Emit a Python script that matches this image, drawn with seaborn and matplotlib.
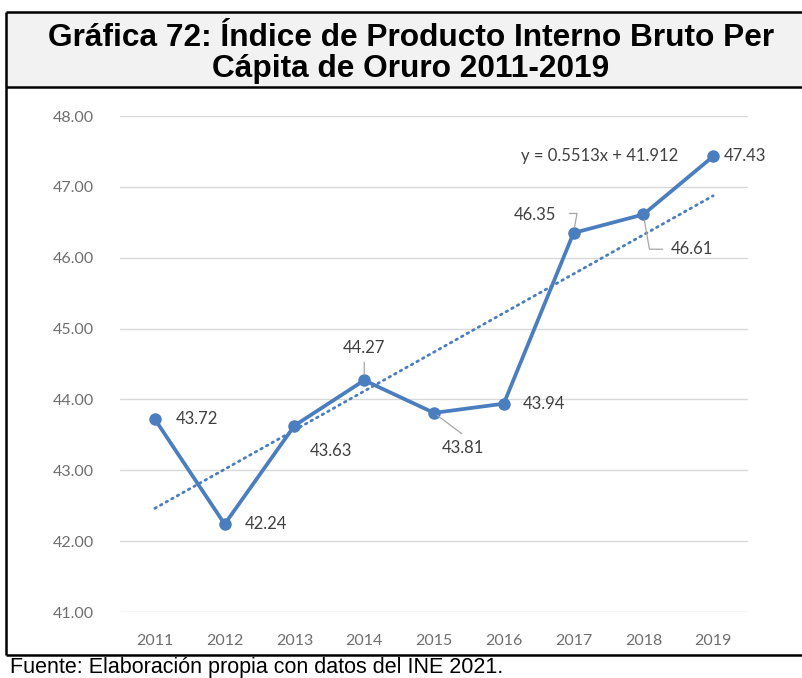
import matplotlib
matplotlib.use("Agg")
import matplotlib.pyplot as plt
import seaborn as sns
import pandas as pd
import numpy as np
from matplotlib.patches import Rectangle
from matplotlib.lines import Line2D

# Index of GDP per capita, Oruro
years = [2011, 2012, 2013, 2014, 2015, 2016, 2017, 2018, 2019]
values = [43.72, 42.24, 43.63, 44.27, 43.81, 43.94, 46.35, 46.61, 47.43]
y_ticks = [41.00, 42.00, 43.00, 44.00, 45.00, 46.00, 47.00, 48.00]

# linear trend (x = 1..9)
trend_slope = 0.5513
trend_intercept = 41.912

title_lines = ["Gráfica 72: Índice de Producto Interno Bruto Per",
               "Cápita de Oruro 2011-2019"]
source_text = "Fuente: Elaboración propia con datos del INE 2021."

sns.set_theme(style="white")
plt.rcParams["font.family"] = ["Lato", "DejaVu Sans"]

BLUE = "#4a7ebf"
LABEL = "#404040"
TICK = "#6f6f6f"
ARIAL = ["Liberation Sans", "DejaVu Sans"]

W, H = 803, 678
fig = plt.figure(figsize=(W / 100, H / 100), dpi=100)

def fx(px):
    return px / W

def fy(py):
    return 1 - py / H

# frame and title band
fig.add_artist(Rectangle((fx(6), fy(87)), 1.0, fy(12) - fy(87), transform=fig.transFigure,
                         facecolor="#f2f2f2", edgecolor="none", zorder=0))
for (x0, y0, x1, y1) in [(6, 12, 810, 12), (6, 87, 810, 87), (6, 655, 810, 655), (6, 12, 6, 655)]:
    fig.add_artist(Line2D([fx(x0), fx(x1)], [fy(y0), fy(y1)], transform=fig.transFigure,
                          color="black", lw=1.8, solid_capstyle="butt", zorder=5))

for line, base in zip(title_lines, [46, 77]):
    fig.text(fx(411), fy(base), line, ha="center", va="baseline", fontsize=22.8,
             fontweight="bold", family=ARIAL, color="black")
fig.text(fx(10), fy(673.5), source_text, ha="left", va="baseline", fontsize=15.5,
         family=ARIAL, color="black")

ax = fig.add_axes([fx(120), fy(612), fx(748) - fx(120), fy(116) - fy(612)])
ax.set_facecolor("none")

df = pd.DataFrame({"year": years, "value": values})
trend_x = np.arange(1, len(years) + 1)
trend_df = pd.DataFrame({"year": years, "trend": trend_slope * trend_x + trend_intercept})

for t in y_ticks:
    ax.axhline(t, color="#d9d9d9", lw=1.0, zorder=0)

sns.lineplot(data=trend_df, x="year", y="trend", ax=ax, color=BLUE, lw=2.0,
             linestyle=(0, (0.6, 1.7)), dash_capstyle="round", zorder=2)
sns.lineplot(data=df, x="year", y="value", ax=ax, color=BLUE, lw=2.7,
             marker="o", markersize=9, markeredgewidth=0, zorder=3)

ax.set_xlim(2010.5, 2019.5)
ax.set_ylim(41, 48)
ax.set_xticks(years)
ax.set_xticklabels([str(y) for y in years])
ax.set_yticks(y_ticks)
ax.set_yticklabels([f"{t:.2f}" for t in y_ticks])
ax.tick_params(axis="x", length=0, pad=16, labelsize=11.5, labelcolor=TICK)
ax.tick_params(axis="y", length=0, pad=19, labelsize=11.5, labelcolor=TICK)
ax.set_xlabel("")
ax.set_ylabel("")
for s in ax.spines.values():
    s.set_visible(False)
ax.grid(False)

# data labels (offsets in points)
label_offsets = {
    2011: (30, 0),
    2012: (30, 0),
    2013: (26, -18),
    2014: (0, 23),
    2015: (21, -25),
    2016: (29, 0),
    2017: (-28, 13),
    2018: (35, -25),
    2019: (23, 0),
}
for yr, v in zip(years, values):
    dx, dy = label_offsets[yr]
    ax.annotate(f"{v:.2f}", (yr, v), xytext=(dx, dy), textcoords="offset points",
                ha="center", va="center", fontsize=12, color=LABEL, zorder=4)

gray = "#a6a6a6"
# leader lines
ax.annotate("", (2014, values[3]), xytext=(0, 13), textcoords="offset points",
            arrowprops=dict(arrowstyle="-", color=gray, lw=0.9, shrinkA=0, shrinkB=4))
ax.annotate("", (2015, values[4]), xytext=(20, -15), textcoords="offset points",
            arrowprops=dict(arrowstyle="-", color=gray, lw=0.9, shrinkA=0, shrinkB=3))
ax.annotate("", (2017, values[6]), xytext=(-3, 14), textcoords="offset points",
            arrowprops=dict(arrowstyle="-", color=gray, lw=0.9, shrinkA=0, shrinkB=4,
                            connectionstyle="angle,angleA=0,angleB=80,rad=0"))
ax.annotate("", (2018, values[7]), xytext=(14, -25), textcoords="offset points",
            arrowprops=dict(arrowstyle="-", color=gray, lw=0.9, shrinkA=0, shrinkB=4,
                            connectionstyle="angle,angleA=180,angleB=-80,rad=0"))

eq = f"y = {trend_slope:.4f}x + {trend_intercept:.3f}"
ax.annotate(eq, (2019, values[8]), xytext=(-82, 0), textcoords="offset points",
            ha="center", va="center", fontsize=12, color=LABEL)

fig.savefig("out.png", dpi=100)
